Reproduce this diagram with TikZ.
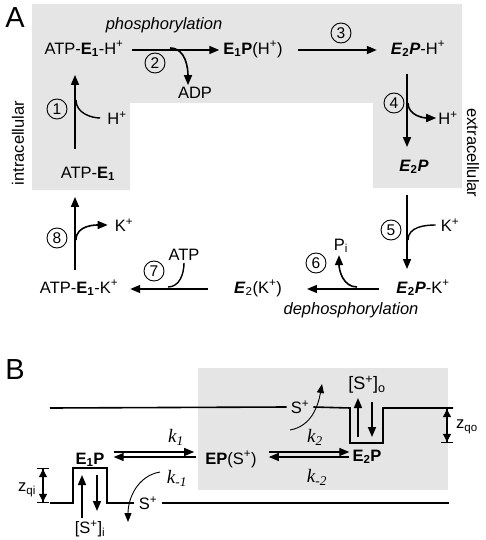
\documentclass[tikz,border=0pt]{standalone}
\usepackage{fontspec}
\setmainfont{Liberation Sans}
\newfontfamily\serifk{Liberation Serif}
\usetikzlibrary{arrows.meta}
\newcommand{\Eone}{\textbf{E}\textsubscript{\textbf{1}}}
\newcommand{\Etwo}{\textbf{\textit{E}\textsubscript{2}}}
\newcommand{\Pbi}{\textbf{\textit{P}}}
\newcommand{\Hp}{H\textsuperscript{+}}
\newcommand{\Kp}{K\textsuperscript{+}}
\newcommand{\Sp}{S\textsuperscript{+}}
\newcommand{\rate}[1]{{\serifk\itshape k\textsubscript{#1}}}
\tikzset{
  species/.style={inner sep=2pt, text height=12pt, text depth=3.5pt, font=\fontsize{16.5}{18}\selectfont},
  ion/.style={inner sep=2pt, font=\fontsize{16.5}{18}\selectfont},
  panel/.style={inner sep=0pt, font=\fontsize{29}{30}\selectfont},
  stepnum/.style={circle, draw, line width=0.9pt, minimum size=20pt, inner sep=0pt, font=\fontsize{15.5}{16}\selectfont},
  ratek/.style={inner sep=1pt, font=\fontsize{19}{20}\selectfont},
  arr/.style={line width=1.6pt, -{Triangle[length=10pt,width=8pt]}},
  branch/.style={line width=1.4pt},
  rarr/.style={line width=1.2pt, -{Triangle[length=10pt,width=8pt]}},
  thinarr/.style={line width=0.9pt, -{Triangle[length=9pt,width=7pt]}},
  mem/.style={line width=1.6pt},
  zbar/.style={line width=1.2pt, {Bar[width=12pt]Triangle[length=8pt,width=8pt]}-{Triangle[length=8pt,width=8pt]Bar[width=12pt]}},
}
\begin{document}
\begin{tikzpicture}[x=1pt,y=-1pt]
\useasboundingbox (0,0) rectangle (485,540);
% shaded regions
\fill[gray!20] (32,4) -- (462,4) -- (462,188) -- (373,188) -- (373,103)
  -- (130,103) -- (130,190) -- (32,190) -- cycle;
\fill[gray!20] (198,368) rectangle (448,490);

%% panel A
\node[panel] (pA) at (15,18) {A};
\node[ion, rotate=90] (intra) at (18,143) {intracellular};
\node[ion, rotate=-90] (extra) at (473,153) {extracellular};

\node[species] (atpEH) at (84,50) {ATP-\Eone-\Hp};
\node[species] (e1p) at (253,50) {\Eone\textbf{P}(\Hp)};
\node[species] (e2pH) at (418,50) {\Etwo\Pbi-\Hp};
\node[species] (e2p) at (414,167) {\Etwo\Pbi};
\node[species] (e2pK) at (423,289) {\Etwo\Pbi-\Kp};
\node[species] (e2K) at (258,289) {\textbf{\textit{E}}\textsubscript{2}(\Kp)};
\node[species] (atpEK) at (79,289) {ATP-\Eone-\Kp};
\node[species] (atpE) at (88,174) {ATP-\Eone};

\node[ion, font=\fontsize{16.5}{18}\selectfont\itshape] (phos) at (164,25) {phosphorylation};
\node[ion, font=\fontsize{16.5}{18}\selectfont\itshape] (dephos) at (351,310) {dephosphorylation};

\node[ion] (adp) at (195,93) {ADP};
\node[ion] (h1) at (117,118) {\Hp};
\node[ion] (h4) at (448,118) {\Hp};
\node[ion] (k5) at (450,225) {\Kp};
\node[ion] (pi) at (341,246) {P\textsubscript{i}};
\node[ion] (atp) at (184,255) {ATP};
\node[ion] (k8) at (124,225) {\Kp};

\node[stepnum] (c1) at (57,109) {1};
\node[stepnum] (c2) at (155,63) {2};
\node[stepnum] (c3) at (341,33) {3};
\node[stepnum] (c4) at (394,103) {4};
\node[stepnum] (c5) at (391,230) {5};
\node[stepnum] (c6) at (316,263) {6};
\node[stepnum] (c7) at (154,271) {7};
\node[stepnum] (c8) at (57,238) {8};

\coordinate (colL) at (75,0);
\coordinate (colR) at (407,0);
\coordinate (j1) at (76,100);
\coordinate (j2) at (170,48);
\coordinate (j4) at (408,103);
\coordinate (j5) at (408,240);
\coordinate (j6) at (357,287);
\coordinate (j7) at (168,287);
\coordinate (j8) at (76,240);

% cycle
\draw[arr, shorten <=15pt, shorten >=15pt] (colL |- atpE.north) -- (colL |- atpEH.south);
\draw[arr, shorten <=6pt, shorten >=2pt] (atpEH.east) -- (e1p.west);
\draw[arr, shorten <=13pt, shorten >=12pt] (e1p.east) -- (e2pH.west);
\draw[arr, shorten <=14pt, shorten >=10pt] (colR |- e2pH.south) -- (colR |- e2p.north);
\draw[arr, shorten <=18pt, shorten >=10pt] (colR |- e2p.south) -- (colR |- e2pK.north);
\draw[arr, shorten <=15pt, shorten >=23pt] (e2pK.west) -- (e2K.east);
\draw[arr, shorten <=24pt, shorten >=10pt] (e2K.west) -- (atpEK.east);
\draw[arr, shorten <=9pt, shorten >=13pt] (colL |- atpEK.north) -- (colL |- atpE.south);

% side branches
\draw[branch, shorten <=5pt] (h1.west) to[out=180, in=-90] (j1);
\draw[arr] (j2) to[out=0, in=90] ([xshift=-7pt]adp.north);
\draw[arr] (j4) to[out=-90, in=180] (h4.west);
\draw[branch, shorten <=3pt] (k5.west) to[out=180, in=90] (j5);
\draw[arr] (j6) to[out=180, in=-90] ([xshift=-2pt]pi.south);
\draw[branch] (atp.south) to[out=-90, in=0] (j7);
\draw[arr, shorten >=5pt] (j8) to[out=90, in=180] (k8.west);

%% panel B
\node[panel] (pB) at (15,370) {B};

\node[ion, inner sep=4pt] (sTop) at (300,407) {\Sp};
\node[ion, inner sep=5pt] (sBot) at (148,503) {\Sp};
\draw[mem] (50,408) -- (sTop.west);
\draw[mem] (sTop.east) -- (350,408) -- (350,443) -- (383,443) -- (383,408) -- (453,408);
\draw[mem] (50,503) -- (73,503) -- (73,468) -- (107,468) -- (107,503) -- (sBot.west);
\draw[mem] (sBot.east) -- (449,503);

\node[species] (e1pB) at (90,460) {\Eone\textbf{P}};
\node[species] (epS) at (231,460) {\textbf{EP}(\Sp)};
\node[species] (e2pB) at (367,457) {\textbf{E\textsubscript{2}P}};
\node[ion] (si) at (90,529) {[\Sp]\textsubscript{i}};
\node[ion, font=\fontsize{18}{20}\selectfont] (so) at (367,385) {[\Sp]\textsubscript{o}};
\node[ion] (zqi) at (27,490) {z\textsubscript{qi}};
\node[ion] (zqo) at (467,427) {z\textsubscript{qo}};

\node[ratek] (k1) at (176,437) {\rate{1}};
\node[ratek] (km1) at (177,478) {\rate{-1}};
\node[ratek] (k2) at (315,437) {\rate{2}};
\node[ratek] (km2) at (317,477) {\rate{-2}};

% rate arrows
\draw[rarr, shorten <=7pt, shorten >=9pt] ([yshift=8pt]e1pB.east) -- ([yshift=8pt]e1pB.east -| epS.west);
\draw[rarr, shorten <=7pt, shorten >=7pt] ([yshift=3pt]epS.west) -- ([yshift=3pt]epS.west -| e1pB.east);
\draw[rarr, shorten <=10pt, shorten >=1pt] ([yshift=8pt]epS.east) -- ([yshift=8pt]epS.east -| e2pB.west);
\draw[rarr, shorten <=1pt, shorten >=10pt] ([yshift=3pt]epS.east -| e2pB.west) -- ([yshift=3pt]epS.east);

% binding wells
\coordinate (wiUp0) at (82,518);
\coordinate (wiUp1) at (82,475);
\coordinate (wiDn0) at (97,475);
\coordinate (wiDn1) at (97,511);
\coordinate (woUp0) at (358,437);
\coordinate (woUp1) at (358,398);
\coordinate (woDn0) at (372,402);
\coordinate (woDn1) at (372,437);
\draw[arr] (wiUp0) -- (wiUp1);
\draw[arr] (wiDn0) -- (wiDn1);
\draw[arr] (woUp0) -- (woUp1);
\draw[arr] (woDn0) -- (woDn1);

% release paths
\coordinate (rel1a) at (160,472);
\coordinate (rel1b) at (128,522);
\coordinate (rel2a) at (290,430);
\coordinate (rel2b) at (322,384);
\draw[thinarr] (rel1a) to[out=190, in=90] (rel1b);
\draw[thinarr] (rel2a) to[out=10, in=-100] (rel2b);

% well depths
\coordinate (zi0) at (43,468);
\coordinate (zi1) at (43,503);
\coordinate (zo0) at (447,408);
\coordinate (zo1) at (447,443);
\draw[zbar] (zi0) -- (zi1);
\draw[zbar] (zo0) -- (zo1);
\end{tikzpicture}
\end{document}
